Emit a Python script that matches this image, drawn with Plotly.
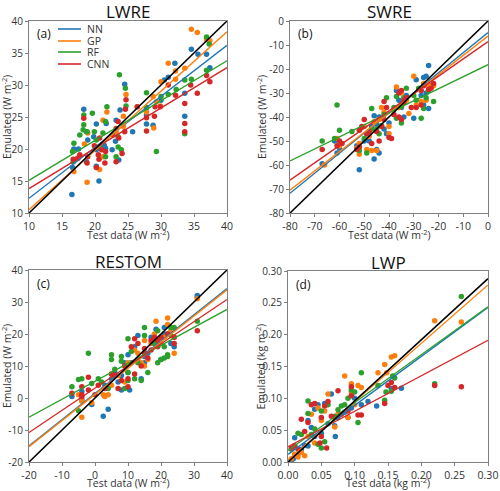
import plotly.graph_objects as go

models = ["NN", "GP", "RF", "CNN"]
colors = ["#1f77b4", "#ff7f0e", "#2ca02c", "#d62728"]
titles = ["LWRE", "SWRE", "RESTOM", "LWP"]
panel_tags = ["(a)", "(b)", "(c)", "(d)"]

# ---------------- Panel (a) LWRE ----------------
a_NN_x = [34.6, 35.6, 36.9, 37.4, 32.1, 31.1, 30.5, 33.6, 33.6, 27.8, 27.8, 27.8, 30.0, 28.8, 24.5, 23.8, 23.1, 23.2, 23.6,
          18.3, 18.7, 18.7, 18.9, 19.8, 20.2, 20.2, 20.6, 16.5, 16.6, 17.5, 16.8, 21.4, 21.6, 21.7, 20.2, 22.6, 25.7]
a_NN_y = [35.6, 34.8, 34.8, 32.7, 33.4, 31.2, 30.8, 28.7, 25.1, 26.5, 25.3, 23.9, 27.6, 23.7, 30.1, 26.1, 21.2, 24.5, 18.3,
          26.2, 22.7, 18.0, 21.4, 21.9, 23.9, 19.9, 15.0, 12.9, 17.1, 20.0, 20.0, 20.6, 20.1, 24.0, 17.3, 19.9, 22.7]
a_GP_x = [34.6, 35.5, 36.9, 37.4, 31.1, 32.2, 33.6, 32.2, 30.0, 28.8, 29.3, 29.9, 27.8, 28.9, 24.3, 24.3, 23.2, 24.7, 26.4,
          21.8, 21.2, 21.2, 20.7, 18.9, 17.4, 16.8, 18.4, 18.8]
a_GP_y = [38.7, 38.2, 37.1, 36.9, 33.4, 32.2, 32.6, 30.9, 30.5, 28.2, 27.4, 26.7, 25.8, 23.3, 25.1, 23.5, 22.7, 28.5, 26.6,
          25.8, 24.5, 18.8, 16.8, 22.5, 18.5, 16.5, 20.8, 14.8]
a_RF_x = [36.9, 37.3, 36.9, 34.6, 33.6, 33.6, 31.1, 32.3, 27.8, 27.8, 29.3, 30.0, 24.6, 24.7, 23.7, 23.5, 23.5, 23.2, 24.0,
          21.8, 21.6, 21.6, 21.2, 19.6, 18.3, 18.2, 17.7, 16.7, 16.6, 16.8, 19.9, 20.2, 20.7, 18.8, 18.3]
a_RF_y = [37.5, 36.4, 32.3, 30.9, 30.8, 22.4, 28.5, 29.3, 28.8, 26.5, 19.6, 28.2, 29.5, 26.7, 31.6, 21.9, 20.3, 18.8, 19.9,
          26.6, 24.3, 18.8, 22.5, 25.6, 25.3, 23.0, 22.2, 18.0, 19.6, 20.9, 22.7, 21.4, 20.4, 22.7, 23.8]
a_CNN_x = [34.5, 36.9, 37.4, 35.5, 33.6, 33.6, 33.6, 31.1, 32.2, 29.1, 29.0, 29.9, 27.8, 27.8, 26.4, 24.7, 24.6, 24.5, 24.1,
           23.6, 23.5, 23.2, 23.2, 22.7, 21.6, 21.5, 21.0, 20.6, 20.2, 19.9, 18.9, 18.8, 18.3, 17.7, 17.4, 16.7, 20.7, 20.5]
a_CNN_y = [30.0, 31.5, 30.5, 28.7, 27.1, 24.0, 22.7, 30.0, 28.4, 26.6, 25.1, 26.6, 24.9, 22.8, 26.6, 27.7, 26.2, 22.7, 19.3,
           21.7, 24.3, 23.2, 18.0, 22.2, 19.6, 17.8, 19.9, 18.4, 17.1, 20.5, 18.8, 17.8, 24.8, 19.1, 18.6, 18.4, 21.7, 19.1]

# ---------------- Panel (b) SWRE ----------------
b_NN_x = [-24, -25, -26, -29, -23, -25, -27, -24, -26, -30, -33, -34, -35, -36, -37, -34, -40, -42, -44, -45, -46, -47,
          -44, -46, -48, -49, -50, -52, -53, -60, -61, -62, -67, -45, -41]
b_NN_y = [-18.5, -23, -23.5, -24.5, -27, -30, -31, -36.5, -35, -40.5, -31, -34, -36, -33, -29, -40, -42.5, -45, -40, -43, -39.5, -44,
          -55, -57.5, -50, -47, -50, -62, -52, -53, -55, -50, -59.5, -53.5, -47]
b_GP_x = [-30, -26, -24, -22, -25, -27, -29, -32, -37, -35, -36, -33, -40, -40, -42, -43, -44, -46, -47, -45, -48, -50,
          -52, -52, -53, -49, -60, -61, -66, -38]
b_GP_y = [-23, -26, -27, -27, -33, -33.5, -35, -38.5, -27.5, -30, -36, -33, -44, -47, -38, -36, -41, -42, -54, -54, -48, -44,
          -55.5, -51, -53, -53.5, -52, -49, -60, -37]
b_RF_x = [-22, -24, -25, -26, -27, -28, -29, -30, -33, -34, -35, -37, -37, -35, -41, -42, -43, -44, -47, -47, -50, -49,
          -52, -55, -60, -61, -62, -67, -45, -38]
b_RF_y = [-33.5, -29, -32, -36.5, -40.5, -28, -33, -31, -28, -32, -35.5, -31.5, -40.5, -42.5, -32, -39, -43.5, -47, -36.5, -45, -49, -55,
          -54, -46, -45.5, -35, -49, -50, -45, -36]
b_CNN_x = [-22, -23, -24, -26, -27, -27, -29, -31, -33, -34, -35, -36, -36, -35, -34, -39, -40, -41, -42, -42, -43, -44,
           -45, -47, -48, -49, -50, -51, -52, -53, -52, -59, -60, -61, -67, -38]
b_CNN_y = [-26, -28, -28.5, -27, -29, -35, -36, -36, -32, -33, -29, -30, -40, -41, -34, -49, -48.5, -36, -33.5, -41, -44, -50,
           -46, -51, -46, -47, -41, -44, -45.5, -53.5, -52.5, -51, -50, -52, -53.5, -39]

# ---------------- Panel (c) RESTOM ----------------
c_NN_x = [31, 31, 24, 21, 22, 20, 18.5, 17, 15, 15, 14, 13, 12, 10, 10, 10.5, 8, 8, 7, 6, 5, 4, 2.5, 3, -1, -4, -7, -4,
          11, 16, 19, 23, 21, 9]
c_NN_y = [32, 31.5, 16, 22, 20, 12, 21.5, 19, 13, 11, 6, 19.5, 16, 13.5, 8, 2.5, 7, 2.5, 5, 8, 6, -3.5, -5.7, 4, -2, -0.5, 0.5, 2,
          11, 14, 18, 17, 20, 11]
c_GP_x = [31, 22, 22, 24, 24, 21, 18.5, 18, 17, 16, 15, 14, 13, 12, 10, 9, 7, 5, 4, 3, 2.5, 5, -4, -4, -5, -1, 20, 23, 13, 15]
c_GP_y = [31, 25, 23, 14, 19, 19, 24, 20, 17, 12, 10, 11, 14, 15, 11, 5, 7, 4, 1, 0.5, 1, 7.5, -6, -1, 1, -1.5, 17, 21, 12, 18]
c_RF_x = [31, 24, 23, 23, 21, 22, 22, 21, 19, 20, 19, 18, 16, 15, 15, 14, 13, 12, 11, 10, 10, 10, 9, 8, 8, 5, 5, 4, 2, 1,
          -1, -2, -4, -5, -7, -5, 6]
c_RF_y = [24, 22, 22, 19.5, 16, 13.5, 13, 12.5, 11, 12, 21, 17, 8, 22, 19.5, 5.5, 11, 6, 14.5, 18.5, 8, 5.5, 3, 11.5, 13, 13.5, 12, 3, 5, 6,
          4.5, 14, 6, 5.8, 3.5, -4, 9]
c_CNN_x = [31, 24, 24, 22, 20, 19, 18, 17, 17, 16, 15, 14, 13, 12, 12, 11, 10, 10, 9, 8, 7, 6, 5, 3, 1, 0, -2, -2, -4, -4,
           -4, -7, 15, 19]
c_CNN_y = [21, 17, 19, 20, 19, 18, 19, 18, 15, 12.5, 15.5, 10, 17, 18.5, 7.5, 16, 3.5, 6, 10, 5.5, 3, 7, 7.5, 3, 4, 1, 6.5, 2.5, 3.5, 1,
           0.5, 1.5, 14, 16]

# ---------------- Panel (d) LWP ----------------
d_NN_x = [0.17, 0.155, 0.133, 0.11, 0.10, 0.095, 0.085, 0.075, 0.07, 0.071, 0.065, 0.055, 0.05, 0.045, 0.04, 0.035, 0.03,
          0.025, 0.02, 0.015, 0.01, 0.008, 0.005, 0.03, 0.06, 0.09, 0.12, 0.04]
d_NN_y = [0.116, 0.115, 0.088, 0.09, 0.10, 0.085, 0.078, 0.07, 0.057, 0.04, 0.107, 0.092, 0.045, 0.09, 0.083, 0.054, 0.065,
          0.026, 0.02, 0.012, 0.038, 0.005, 0.002, 0.025, 0.06, 0.07, 0.095, 0.04]
d_GP_x = [0.26, 0.22, 0.16, 0.155, 0.145, 0.135, 0.148, 0.11, 0.105, 0.095, 0.095, 0.085, 0.09, 0.06, 0.055, 0.05, 0.045,
          0.04, 0.035, 0.025, 0.02, 0.015, 0.01, 0.005, 0.03, 0.07, 0.075, 0.10]
d_GP_y = [0.22, 0.222, 0.167, 0.165, 0.153, 0.14, 0.14, 0.117, 0.12, 0.123, 0.11, 0.135, 0.07, 0.107, 0.08, 0.065, 0.085,
          0.03, 0.075, 0.01, 0.015, 0.008, 0.012, 0.005, 0.04, 0.055, 0.075, 0.09]
d_RF_x = [0.26, 0.22, 0.16, 0.157, 0.155, 0.145, 0.147, 0.135, 0.11, 0.105, 0.10, 0.095, 0.09, 0.085, 0.08, 0.075, 0.06,
          0.055, 0.05, 0.05, 0.045, 0.04, 0.035, 0.03, 0.03, 0.02, 0.015, 0.01, 0.005, 0.07]
d_RF_y = [0.26, 0.123, 0.132, 0.135, 0.111, 0.097, 0.11, 0.12, 0.14, 0.062, 0.11, 0.113, 0.10, 0.09, 0.088, 0.082, 0.09,
          0.032, 0.08, 0.022, 0.028, 0.052, 0.043, 0.096, 0.076, 0.043, 0.045, 0.025, 0.02, 0.072]
d_CNN_x = [0.26, 0.22, 0.16, 0.155, 0.15, 0.145, 0.11, 0.105, 0.095, 0.095, 0.09, 0.075, 0.065, 0.06, 0.058, 0.055, 0.05,
           0.05, 0.048, 0.04, 0.035, 0.03, 0.025, 0.02, 0.015, 0.01, 0.005, 0.08, 0.07]
d_CNN_y = [0.118, 0.12, 0.117, 0.125, 0.12, 0.092, 0.074, 0.074, 0.118, 0.104, 0.08, 0.112, 0.072, 0.095, 0.022, 0.088, 0.07,
           0.04, 0.03, 0.092, 0.09, 0.062, 0.048, 0.067, 0.02, 0.025, 0.022, 0.075, 0.07]

# Fitted regression lines (slope, intercept) per model
a_slope = [0.797, 0.927, 0.623, 0.630]
a_icpt = [4.33, 1.23, 8.87, 7.50]
b_slope = [0.8375, 0.8025, 0.5013, 0.7213]
b_icpt = [-4.8, -6.3, -18.2, -8.6]
c_slope = [0.820, 0.817, 0.562, 0.693]
c_icpt = [1.40, 1.13, 5.23, 3.07]
d_slope = [0.77, 0.917, 0.753, 0.557]
d_icpt = [0.012, 0.003, 0.018, 0.024]
ref_slope = [1.0, 1.0, 1.0, 0.96]

x_ranges = [[10, 40], [-80, 0], [-20, 40], [0, 0.3]]
y_ranges = [[10, 40], [-80, 0], [-20, 40], [0, 0.3]]
tickvals = [[10, 15, 20, 25, 30, 35, 40],
            [-80, -70, -60, -50, -40, -30, -20, -10, 0],
            [-20, -10, 0, 10, 20, 30, 40],
            [0, 0.05, 0.10, 0.15, 0.20, 0.25, 0.30]]
ticktext = [["10", "15", "20", "25", "30", "35", "40"],
            ["-80", "-70", "-60", "-50", "-40", "-30", "-20", "-10", "0"],
            ["-20", "-10", "0", "10", "20", "30", "40"],
            ["0.00", "0.05", "0.10", "0.15", "0.20", "0.25", "0.30"]]
units = ["W m<sup>-2</sup>", "W m<sup>-2</sup>", "W m<sup>-2</sup>", "kg m<sup>-2</sup>"]

panels = [
    ([a_NN_x, a_GP_x, a_RF_x, a_CNN_x], [a_NN_y, a_GP_y, a_RF_y, a_CNN_y], a_slope, a_icpt),
    ([b_NN_x, b_GP_x, b_RF_x, b_CNN_x], [b_NN_y, b_GP_y, b_RF_y, b_CNN_y], b_slope, b_icpt),
    ([c_NN_x, c_GP_x, c_RF_x, c_CNN_x], [c_NN_y, c_GP_y, c_RF_y, c_CNN_y], c_slope, c_icpt),
    ([d_NN_x, d_GP_x, d_RF_x, d_CNN_x], [d_NN_y, d_GP_y, d_RF_y, d_CNN_y], d_slope, d_icpt),
]

W, H = 500, 491
# plot-area pixel boxes (left, right, top, bottom)
boxes = [(29, 227, 21, 213), (290, 488, 21, 213), (29, 227, 270, 462), (288, 488, 271, 462)]
# y-title x positions (px) and x-title offsets below the plot (px)
ytitle_x = [6, 261, 6, 260]
xtitle_off = [22, 22, 20, 20]

FONT = "Open Sans"
TXT = "#333333"
FS = 10
fig = go.Figure()
layout = dict(width=W, height=H, margin=dict(l=0, r=0, t=0, b=0, autoexpand=False),
              paper_bgcolor="white", plot_bgcolor="white",
              font=dict(family=FONT, color=TXT, size=FS), showlegend=False)
annotations = []
shapes = []

for i, (xs, ys, sl, ic) in enumerate(panels):
    n = i + 1
    xa = "x" if n == 1 else f"x{n}"
    ya = "y" if n == 1 else f"y{n}"
    for k in range(4):
        fig.add_trace(go.Scatter(x=xs[k], y=ys[k], mode="markers", xaxis=xa, yaxis=ya,
                                 marker=dict(color=colors[k], size=5.5), name=models[k],
                                 hoverinfo="skip"))
    xr = x_ranges[i]
    for k in range(4):
        fig.add_trace(go.Scatter(x=xr, y=[sl[k] * v + ic[k] for v in xr], mode="lines",
                                 xaxis=xa, yaxis=ya, line=dict(color=colors[k], width=1.4),
                                 name=models[k]))
    fig.add_trace(go.Scatter(x=xr, y=[ref_slope[i] * v for v in xr], mode="lines",
                             xaxis=xa, yaxis=ya, line=dict(color="black", width=1.6),
                             name="1:1"))
    L, R, T, B = boxes[i]
    axkey = "xaxis" if n == 1 else f"xaxis{n}"
    aykey = "yaxis" if n == 1 else f"yaxis{n}"
    common = dict(showline=True, mirror=True, linecolor="#808080", linewidth=1,
                  showgrid=False, zeroline=False, ticks="outside", ticklen=3,
                  tickcolor="#808080", tickfont=dict(size=10.5, color=TXT), automargin=False)
    layout[axkey] = dict(domain=[L / W, R / W], range=xr, anchor=ya,
                         tickvals=tickvals[i], ticktext=ticktext[i], **common)
    layout[aykey] = dict(domain=[1 - B / H, 1 - T / H], range=y_ranges[i], anchor=xa,
                         tickvals=tickvals[i], ticktext=ticktext[i], **common)
    layout[aykey]["tickfont"] = dict(size=10, color=TXT)
    # axis titles
    annotations.append(dict(text=f"Test data ({units[i]})", x=(L + R) / 2 / W, y=1 - (B + xtitle_off[i]) / H,
                            xref="paper", yref="paper", xanchor="center", yanchor="middle",
                            showarrow=False, font=dict(size=10.5, color=TXT)))
    annotations.append(dict(text=f"Emulated ({units[i]})", x=ytitle_x[i] / W, y=1 - (T + B) / 2 / H,
                            xref="paper", yref="paper", xanchor="center", yanchor="middle",
                            textangle=-90, showarrow=False, font=dict(size=10.5, color=TXT)))
    annotations.append(dict(text=titles[i], x=(L + R) / 2 / W, y=1 - (T - 9) / H, xref="paper", yref="paper",
                            xanchor="center", yanchor="middle", showarrow=False,
                            font=dict(size=17, color="#111")))
    annotations.append(dict(text=panel_tags[i], x=(L + 6) / W, y=1 - (T + 13) / H, xref="paper", yref="paper",
                            xanchor="left", yanchor="middle", showarrow=False,
                            font=dict(size=12, color="#111")))

# legend (panel a)
leg_y = [29, 41, 52, 64]
for k in range(4):
    shapes.append(dict(type="line", xref="paper", yref="paper", x0=58 / W, x1=81 / W,
                       y0=1 - leg_y[k] / H, y1=1 - leg_y[k] / H,
                       line=dict(color=colors[k], width=1.6)))
    annotations.append(dict(text=models[k], x=85 / W, y=1 - leg_y[k] / H, xref="paper", yref="paper",
                            xanchor="left", yanchor="middle", showarrow=False,
                            font=dict(size=10.5, color=TXT)))

layout["annotations"] = annotations
layout["shapes"] = shapes
fig.update_layout(**layout)
fig.write_html("out.html", config={"displayModeBar": False},
               post_script="document.body.style.margin='0';")
